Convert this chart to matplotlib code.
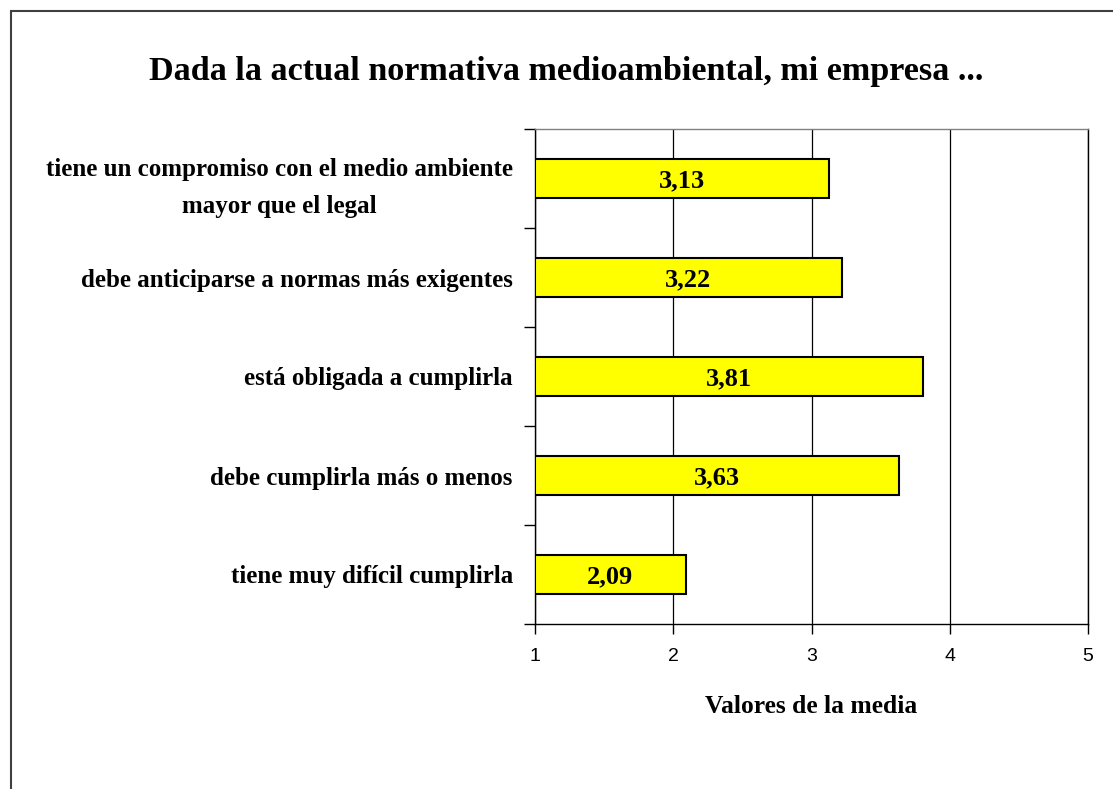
import matplotlib
matplotlib.use("Agg")
import matplotlib.pyplot as plt
from matplotlib.patches import Rectangle

categories = [
    "tiene un compromiso con el medio ambiente\nmayor que el legal",
    "debe anticiparse a normas más exigentes",
    "está obligada a cumplirla",
    "debe cumplirla más o menos",
    "tiene muy difícil cumplirla",
]
values = [3.13, 3.22, 3.81, 3.63, 2.09]
value_labels = ["3,13", "3,22", "3,81", "3,63", "2,09"]
xticks = [1, 2, 3, 4, 5]
title = "Dada la actual normativa medioambiental, mi empresa ..."
xlabel = "Valores de la media"

W, H = 1113, 789
fig = plt.figure(figsize=(W / 100, H / 100), dpi=100)
serif = ["Liberation Serif", "DejaVu Serif"]
sans = ["Liberation Sans", "DejaVu Sans"]

ax = fig.add_axes([535 / W, 1 - 624 / H, (1088 - 535) / W, (624 - 129) / H])

ypos = list(range(len(categories)))
ax.barh(ypos, [v - 1 for v in values], left=1, height=0.4,
        color="#FFFF00", edgecolor="black", linewidth=1.5, zorder=3)
for y, v, lab in zip(ypos, values, value_labels):
    ax.text((1 + v) / 2, y, lab, ha="center", va="center_baseline",
            fontfamily=serif, fontweight="bold", fontsize=19, zorder=4)

ax.set_xlim(1, 5)
ax.set_ylim(len(categories) - 0.5, -0.5)
ax.set_xticks(xticks)
ax.set_xticklabels([str(t) for t in xticks], fontfamily=sans, fontsize=14)
ax.tick_params(axis="x", direction="out", length=7, width=1, pad=10)

# category boundaries as major ticks, labels at centers via minor ticks
ax.set_yticks([i + 0.5 for i in range(-1, len(categories))])
ax.set_yticklabels([])
ax.tick_params(axis="y", which="major", direction="out", length=8, width=1)
ax.set_yticks(ypos, minor=True)
ax.set_yticklabels(categories, minor=True, fontfamily=serif,
                   fontweight="bold", fontsize=18, linespacing=1.8)
ax.tick_params(axis="y", which="minor", length=0, pad=16)
for t in ax.get_yticklabels(minor=True):
    t.set_multialignment("center")

ax.grid(axis="x", color="black", linewidth=0.9, zorder=0)
ax.spines["top"].set_color("#808080")
ax.spines["right"].set_color("black")
for s in ax.spines.values():
    s.set_linewidth(1.0)

ax.set_xlabel(xlabel, fontfamily=serif, fontweight="bold", fontsize=18.4, labelpad=22)

fig.text(566 / W, 1 - 80 / H, title, ha="center", va="baseline",
         fontfamily=serif, fontweight="bold", fontsize=24.6)

fig.patches.append(Rectangle((10.5 / W, -0.1), 1.2, 1 - 10.5 / H + 0.1,
                             transform=fig.transFigure, fill=False,
                             edgecolor="#404040", linewidth=1.5))

fig.savefig("out.png", dpi=100)
